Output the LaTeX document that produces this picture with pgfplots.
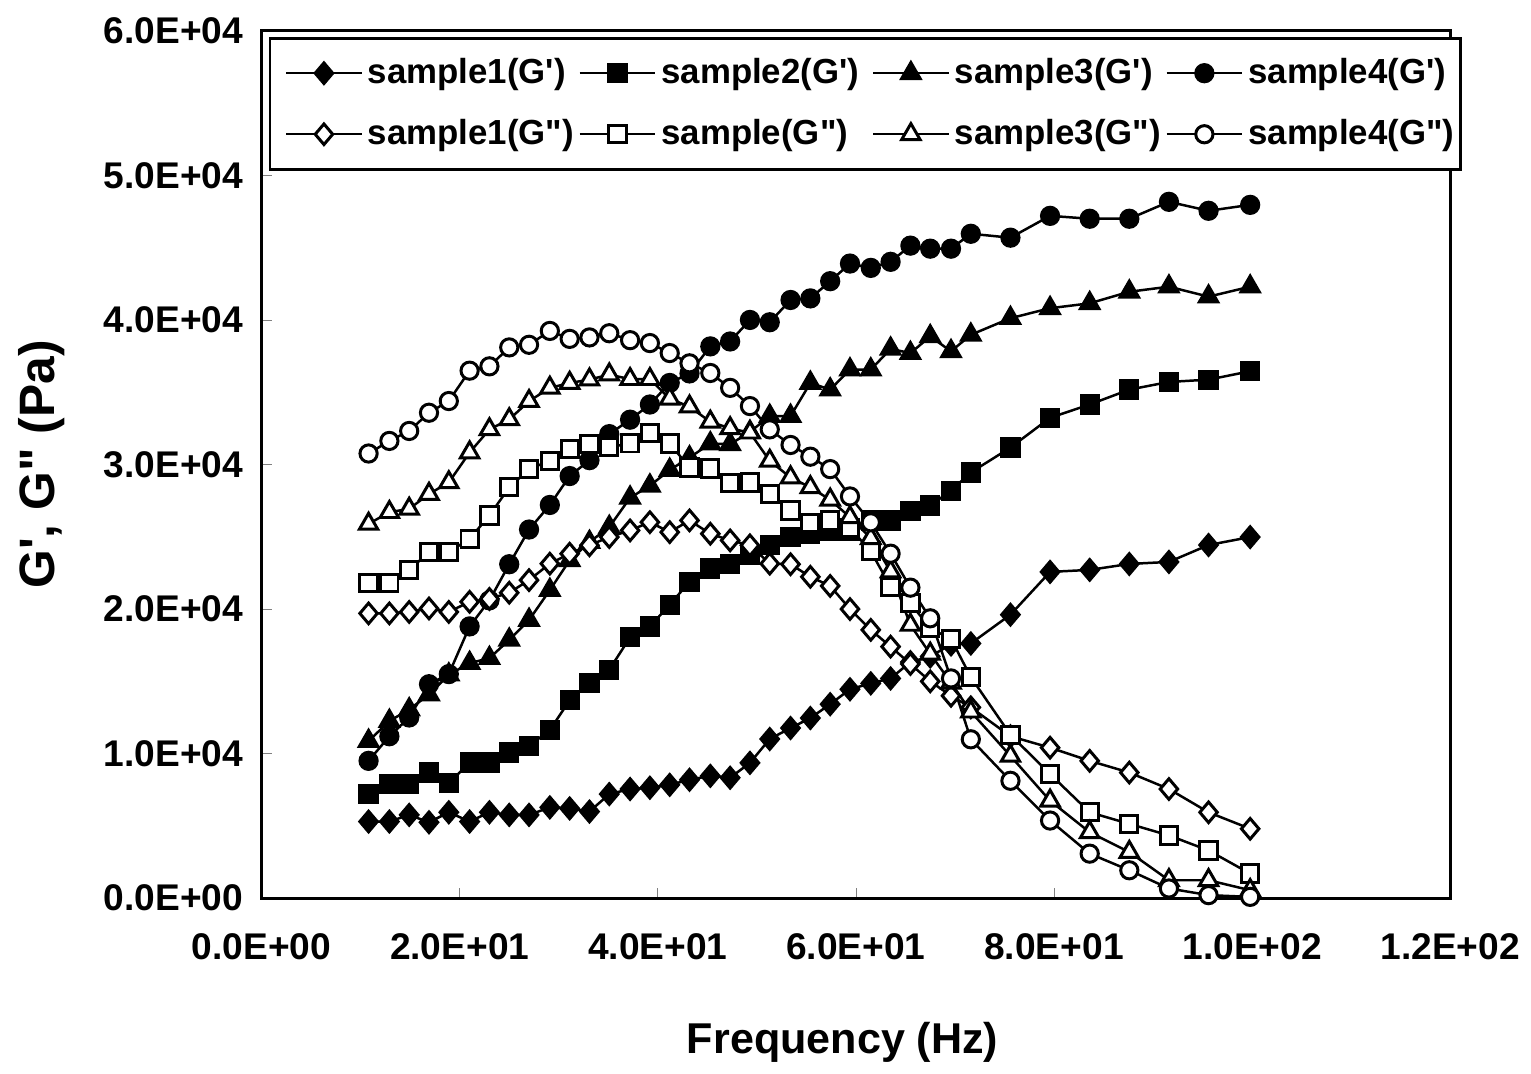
\documentclass[border=0pt]{standalone}
\usepackage{fontspec}
\setmainfont{Liberation Sans}
\usepackage{pgfplots}
\pgfplotsset{compat=1.18}
\usepackage{pgfplotstable}

\pgfdeclareplotmark{dia}{%
  \pgfpathmoveto{\pgfqpoint{0pt}{\pgfplotmarksize}}%
  \pgfpathlineto{\pgfqpoint{.85\pgfplotmarksize}{0pt}}%
  \pgfpathlineto{\pgfqpoint{0pt}{-\pgfplotmarksize}}%
  \pgfpathlineto{\pgfqpoint{-.85\pgfplotmarksize}{0pt}}%
  \pgfpathclose\pgfusepathqfillstroke}

\pgfplotstableread{
x s1p s2p s3p s4p s1pp s2pp s3pp s4pp
10.8 5300 7200 10870 9500 19700 21810 25890 30760
12.9 5300 7890 12250 11200 19700 21810 26700 31630
14.9 5760 7890 13050 12500 19800 22690 26930 32320
16.9 5250 8690 14090 14800 20040 23950 27960 33580
18.9 5940 7960 15460 15500 19800 23950 28760 34390
21.0 5300 9380 16260 18800 20500 24860 30830 36490
23.0 5940 9380 16600 20600 20700 26470 32430 36790
25.0 5760 10070 17870 23100 21130 28420 33120 38100
27.0 5760 10530 19240 25500 22000 29680 34380 38280
29.1 6280 11630 21310 27200 23140 30260 35300 39240
31.1 6210 13690 23370 29200 23830 31060 35640 38690
33.1 5990 14880 24630 30300 24410 31400 35870 38790
35.1 7200 15810 25670 32100 24980 31200 36220 39080
37.2 7550 18040 27700 33100 25440 31460 35900 38600
39.2 7640 18790 28530 34150 26010 32200 35900 38400
41.2 7840 20300 29620 35640 25320 31450 34550 37710
43.2 8190 21880 30480 36300 26130 29790 34000 37000
45.3 8460 22800 31450 38170 25210 29730 32950 36330
47.3 8330 23140 31400 38510 24750 28700 32500 35300
49.3 9360 23720 32250 40000 24410 28760 32200 34040
51.3 11010 24410 33350 39840 23140 27960 30250 32430
53.4 11770 24980 33350 41380 23100 26810 29100 31350
55.4 12460 25210 35640 41490 22230 25950 28420 30540
57.4 13420 25440 35180 42680 21600 26130 27560 29680
59.4 14450 25440 36560 43900 20000 25600 26350 27790
61.5 14860 26130 36560 43600 18560 24000 24900 26000
63.5 15200 26130 38000 44020 17400 21540 22600 23830
65.5 16330 26760 37700 45140 16200 20400 18900 21480
67.5 16720 27160 38860 44930 15000 18670 16900 19360
69.6 17550 28190 37830 44930 14000 17930 14900 15200
71.6 17620 29450 38970 45960 13200 15290 12900 10990
75.6 19610 31170 40120 45690 11200 11300 9840 8120
79.6 22570 33230 40810 47200 10410 8580 6740 5370
83.6 22710 34150 41150 47000 9500 5940 4560 3080
87.6 23120 35180 41950 47000 8690 5140 3190 1930
91.6 23260 35710 42300 48170 7550 4340 1240 670
95.6 24430 35870 41610 47550 5940 3300 1240 210
99.8 24980 36450 42300 47960 4800 1700 550 90
}\data

\newcommand{\leg}[1]{\makebox[58pt][l]{#1}}

\begin{document}
\begin{tikzpicture}
\begin{axis}[
  name=ax,
  scale only axis,
  width=358.5pt, height=261.6pt,
  xmin=0, xmax=120, ymin=0, ymax=60000,
  xtick={0,20,40,60,80,100,120},
  xticklabels={0.0E+00,2.0E+01,4.0E+01,6.0E+01,8.0E+01,1.0E+02,1.2E+02},
  ytick={0,10000,20000,30000,40000,50000,60000},
  yticklabels={0.0E+00,1.0E+04,2.0E+04,3.0E+04,4.0E+04,5.0E+04,6.0E+04},
  scaled y ticks=false,
  tick label style={font=\fontsize{11.2}{13}\selectfont\bfseries},
  xticklabel style={yshift=-7pt},
  yticklabel style={xshift=-2pt},
  tick align=inside, tick pos=left,
  major tick length=3pt,
  axis line style={line width=1pt},
  xlabel={Frequency (Hz)},
  ylabel={G\textquotesingle, G\textquotedbl\ (Pa)},
  xlabel style={font=\fontsize{13}{15}\selectfont\bfseries, yshift=-12pt, xshift=-4pt},
  ylabel style={font=\fontsize{15}{17}\selectfont\bfseries, yshift=5pt},
  legend columns=4,
  legend cell align=left,
  legend style={at={(0.006,0.993)}, anchor=north west,
    font=\fontsize{10.5}{12}\selectfont\bfseries,
    draw=black, line width=0.8pt, inner sep=4.5pt, row sep=6.3pt,
    nodes={inner sep=1.5pt},
    /tikz/every even column/.append style={column sep=4pt}},
  legend image code/.code={\draw[mark repeat=2,mark phase=2] plot coordinates {(0cm,0cm) (0.4cm,0cm) (0.8cm,0cm)};},
  every axis plot/.append style={black, line width=0.75pt, mark size=2.7pt},
]
\addplot[mark=dia, mark size=3.1pt, mark options={fill=black, line width=0.9pt}] table[x=x,y=s1p]{\data};
\addlegendentry{\leg{sample1(G\textquotesingle)}}
\addplot[mark=square*, mark size=2.6pt, mark options={fill=black, line width=0.9pt}] table[x=x,y=s2p]{\data};
\addlegendentry{\leg{sample2(G\textquotesingle)}}
\addplot[mark=triangle*, mark size=3.2pt, mark options={fill=black, line width=0.9pt}] table[x=x,y=s3p]{\data};
\addlegendentry{\leg{sample3(G\textquotesingle)}}
\addplot[mark=*, mark size=2.6pt, mark options={fill=black, line width=0.9pt}] table[x=x,y=s4p]{\data};
\addlegendentry{\leg{sample4(G\textquotesingle)}}
\addplot[mark=dia, mark size=3.1pt, mark options={fill=white, line width=0.9pt}] table[x=x,y=s1pp]{\data};
\addlegendentry{\leg{sample1(G\textquotedbl)}}
\addplot[mark=square*, mark size=2.6pt, mark options={fill=white, line width=0.9pt}] table[x=x,y=s2pp]{\data};
\addlegendentry{\leg{sample(G\textquotedbl)}}
\addplot[mark=triangle*, mark size=3.2pt, mark options={fill=white, line width=0.9pt}] table[x=x,y=s3pp]{\data};
\addlegendentry{\leg{sample3(G\textquotedbl)}}
\addplot[mark=*, mark size=2.6pt, mark options={fill=white, line width=0.9pt}] table[x=x,y=s4pp]{\data};
\addlegendentry{\leg{sample4(G\textquotedbl)}}
\end{axis}
\path ([xshift=-78.9pt,yshift=-51.3pt]ax.south west) rectangle ([xshift=21.9pt,yshift=9.3pt]ax.north east);
\end{tikzpicture}
\end{document}
